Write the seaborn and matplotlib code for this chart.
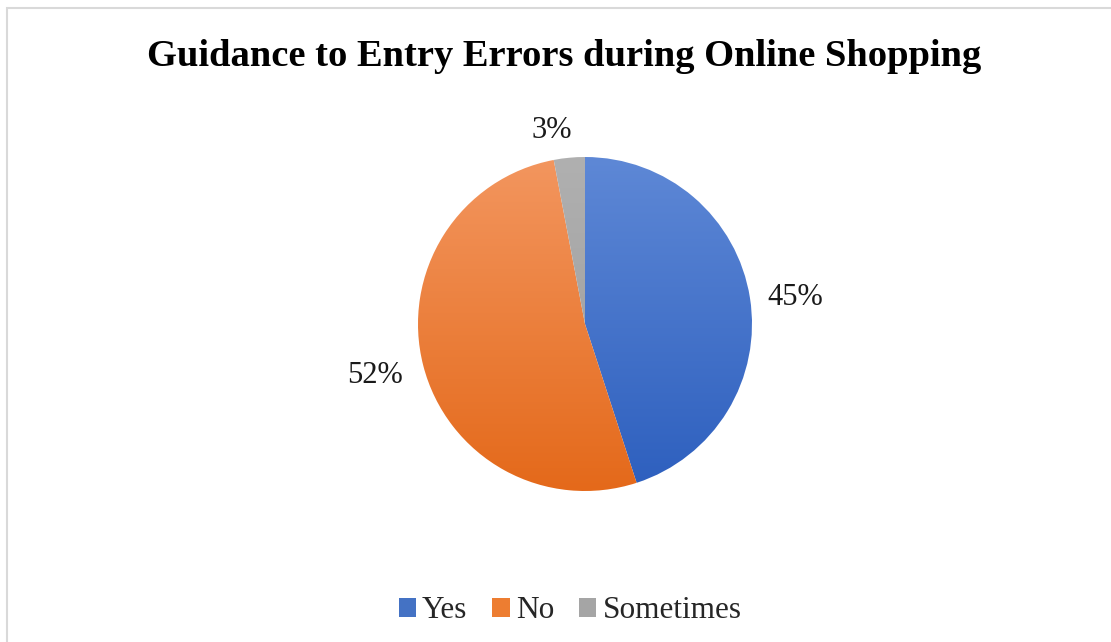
import numpy as np
import matplotlib
matplotlib.use("Agg")
import matplotlib.pyplot as plt
from matplotlib.colors import LinearSegmentedColormap
from matplotlib.patches import Rectangle, Patch
import seaborn as sns

sns.set_theme(style="white")
plt.rcParams["font.family"] = ["Liberation Serif", "DejaVu Serif"]

categories = ["Yes", "No", "Sometimes"]
shares = [45, 52, 3]
labels = ["45%", "52%", "3%"]
# (top colour, bottom colour) of each slice's vertical gradient
gradients = [("#5E88D6", "#2D5FBE"), ("#F3965F", "#E4691A"), ("#B0B0B0", "#9A9A9A")]
legend_colors = ["#4472C4", "#ED7D31", "#A5A5A5"]

W, H = 1111, 642
fig = plt.figure(figsize=(W / 100, H / 100), dpi=100)
fig.patch.set_facecolor("white")

# thin grey frame of the chart area
fig.patches.append(Rectangle((7 / W, -0.1), 1.2, (H - 8) / H + 0.1, transform=fig.transFigure,
                             fill=False, edgecolor="#D9D9D9", linewidth=1.5))

cx, cy, r = 585, 324, 167
ax = fig.add_axes([(cx - r) / W, (H - cy - r) / H, 2 * r / W, 2 * r / H])

wedges, _ = ax.pie(shares, startangle=90, counterclock=False, radius=1,
                   colors=legend_colors, wedgeprops=dict(linewidth=0))
ax.axis("off")

grad = np.linspace(0, 1, 256).reshape(-1, 1)
for w, (top, bot) in zip(wedges, gradients):
    cmap = LinearSegmentedColormap.from_list("g", [top, bot])
    im = ax.imshow(grad, cmap=cmap, extent=[-1, 1, -1, 1], origin="upper",
                   aspect="auto", zorder=2)
    im.set_clip_path(w)
    w.set_facecolor("none")
ax.set_xlim(-1, 1)
ax.set_ylim(-1, 1)
ax.set_aspect("equal")

# percentage labels outside the slices
label_pos = [(795, 298), (375, 376), (552, 131)]
for txt, (px, py) in zip(labels, label_pos):
    fig.text(px / W, 1 - py / H, txt, ha="center", va="center", fontsize=22, color="#1a1a1a")

fig.text(564 / W, 1 - 56 / H, "Guidance to Entry Errors during Online Shopping",
         ha="center", va="center", fontsize=27.7, fontweight="bold", color="black")

handles = [Patch(facecolor=c, edgecolor="none") for c in legend_colors]
fig.legend(handles, categories, loc="center", bbox_to_anchor=(570 / W, 1 - 611 / H),
           ncol=3, frameon=False, fontsize=22.5, handlelength=0.55, handleheight=0.55,
           handletextpad=0.2, columnspacing=0.8)

fig.savefig("out.png", dpi=100, facecolor="white")
